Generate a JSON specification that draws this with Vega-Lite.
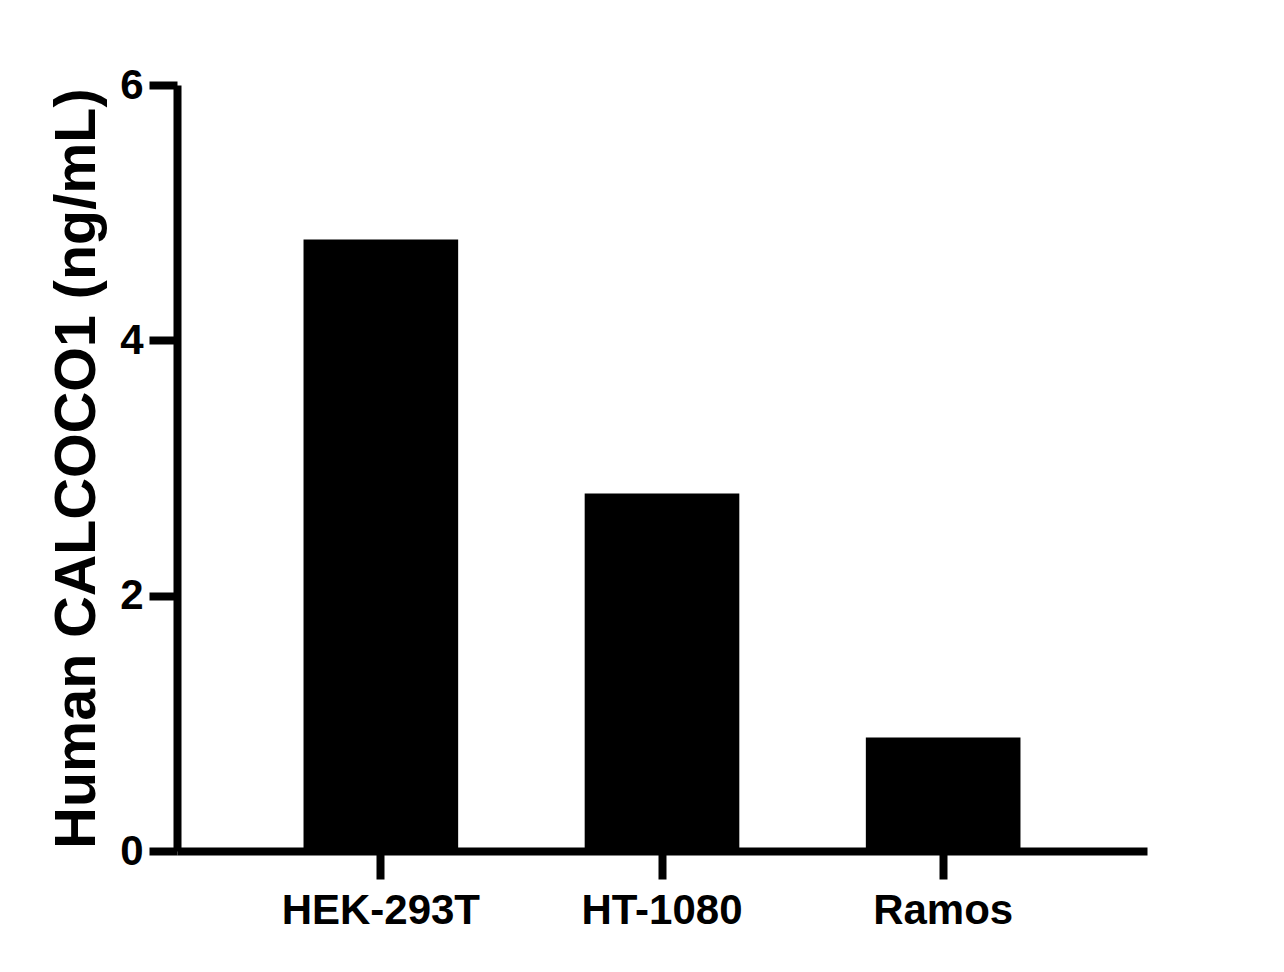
{
  "$schema": "https://vega.github.io/schema/vega-lite/v6.json",
  "width": 970,
  "height": 766,
  "autosize": {"type": "none"},
  "padding": {"left": 177, "top": 85, "right": 137, "bottom": 121},
  "background": "white",
  "config": {
    "view": {"stroke": null},
    "font": "Liberation Sans",
    "axis": {
      "domainColor": "black",
      "domainWidth": 8,
      "tickColor": "black",
      "tickWidth": 8,
      "tickSize": 28,
      "labelColor": "black",
      "labelFont": "Liberation Sans",
      "labelFontWeight": "bold",
      "titleFont": "Liberation Sans",
      "titleFontWeight": "bold",
      "titleColor": "black",
      "grid": false
    }
  },
  "data": {
    "values": [
      {"cell": "HEK-293T", "conc": 4.79},
      {"cell": "HT-1080", "conc": 2.8},
      {"cell": "Ramos", "conc": 0.89}
    ]
  },
  "mark": {"type": "bar", "color": "black"},
  "encoding": {
    "x": {
      "field": "cell",
      "type": "nominal",
      "sort": null,
      "title": null,
      "scale": {"paddingInner": 0.45, "paddingOuter": 0.45},
      "axis": {"labelAngle": 0, "labelFontSize": 42, "labelPadding": 11, "labelLimit": 0}
    },
    "y": {
      "field": "conc",
      "type": "quantitative",
      "title": "Human CALCOCO1 (ng/mL)",
      "scale": {"domain": [0, 6], "nice": false},
      "axis": {
        "values": [0, 2, 4, 6],
        "labelFontSize": 42,
        "labelPadding": 6,
        "titleFontSize": 57.5,
        "titlePadding": 13
      }
    }
  }
}
